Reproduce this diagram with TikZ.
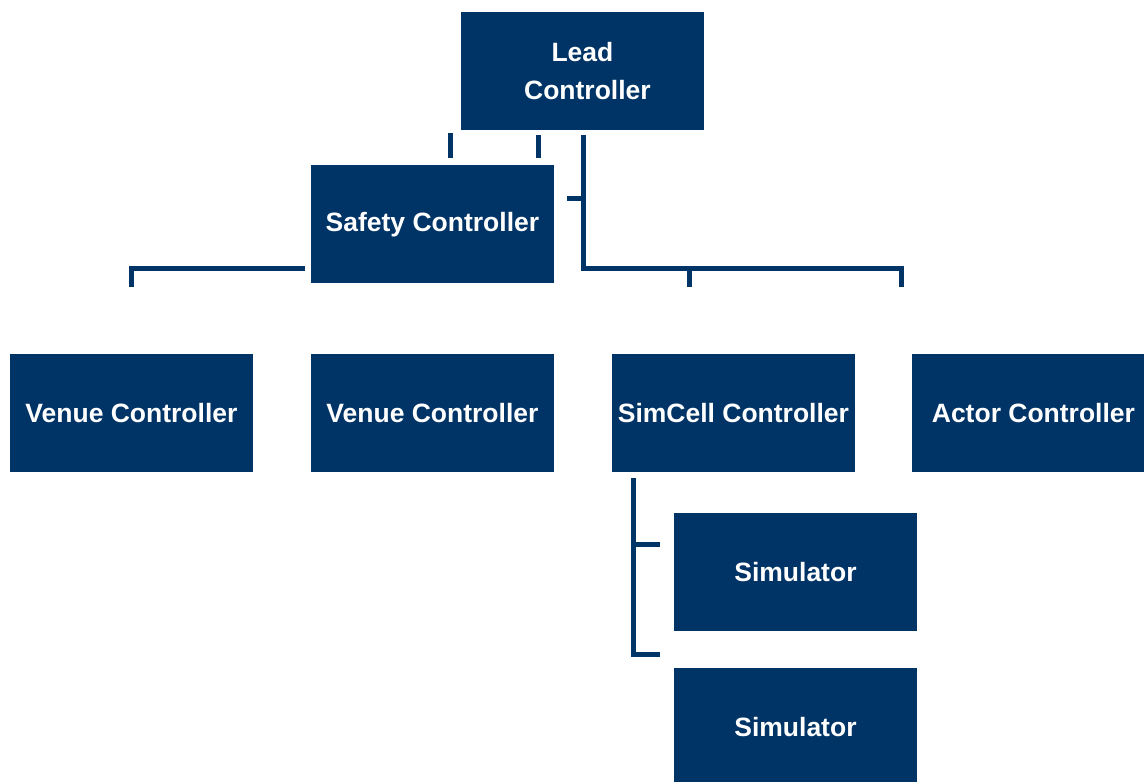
\documentclass[tikz,border=0pt]{standalone}
\usepackage{fontspec}
\setmainfont{Liberation Sans}
\usetikzlibrary{calc}
\definecolor{navy}{RGB}{0,52,102}
\tikzset{
  box/.style={fill=navy, text=white, inner sep=0pt, anchor=north west,
    minimum width=242.5pt, minimum height=118pt, align=center,
    font=\bfseries\fontsize{26.5}{38}\selectfont},
  conn/.style={draw=navy, line width=5pt, line join=miter}
}
\begin{document}
\begin{tikzpicture}[x=1pt,y=-1pt]
\useasboundingbox (0,0) rectangle (1144,782);
\node[box] (lead) at (461,12) {Lead\\ \hspace*{10pt}Controller};
\node[box] (safety) at (311,165) {Safety Controller};
\node[box] (venue1) at (10,354) {Venue Controller};
\node[box] (venue2) at (311,354) {Venue Controller};
\node[box] (simcell) at (612,354) {SimCell Controller};
\node[box] (actor) at (912,354) {Actor Controller};
\node[box] (sim1) at (674,513) {Simulator};
\node[box, minimum height=118pt] (sim2) at (674,668) {\raisebox{-2pt}{Simulator}};
% stubs under lead
\coordinate (s1a) at ($(lead.south west)+(-11,3)$);
\coordinate (s1b) at ($(safety.north west)+(139,-7)$);
\draw[conn] (s1a) -- (s1a |- s1b);
\coordinate (s2a) at ($(lead.south west)+(77,5)$);
\draw[conn] (s2a) -- (s2a |- s1b);
% main trunk
\coordinate (t0) at ($(lead.south west)+(122,5)$);
\coordinate (t1) at ($(safety.south east)+(30,-15)$);
\coordinate (tr) at ($(t1 -| actor.west)+(-11,0)$);
\draw[conn] (t0) -- (t0 |- t1) -- (tr) -- ($(tr)+(0,19)$);
\draw[conn] ($(t0)+(0,63)$) -- ++(-16,0);
\coordinate (tm) at ($(t1 -| simcell.west)+(77,0)$);
\draw[conn] (tm) -- ($(tm)+(0,19)$);
% left branch
\coordinate (l0) at ($(safety.west |- t1)+(-6,0)$);
\draw[conn] (l0) -- (l0 -| venue1.north) -- ($(l0 -| venue1.north)+(0,19)$);
% simcell children
\coordinate (c0) at ($(simcell.south west)+(21,6)$);
\coordinate (c1) at ($(c0 |- sim2.north)+(0,-14)$);
\draw[conn] (c0) -- (c1) -- ($(c1)+(27,0)$);
\coordinate (c2) at ($(c0 |- sim1.center)+(0,-28)$);
\draw[conn] (c2) -- ($(c2)+(27,0)$);
\end{tikzpicture}
\end{document}
